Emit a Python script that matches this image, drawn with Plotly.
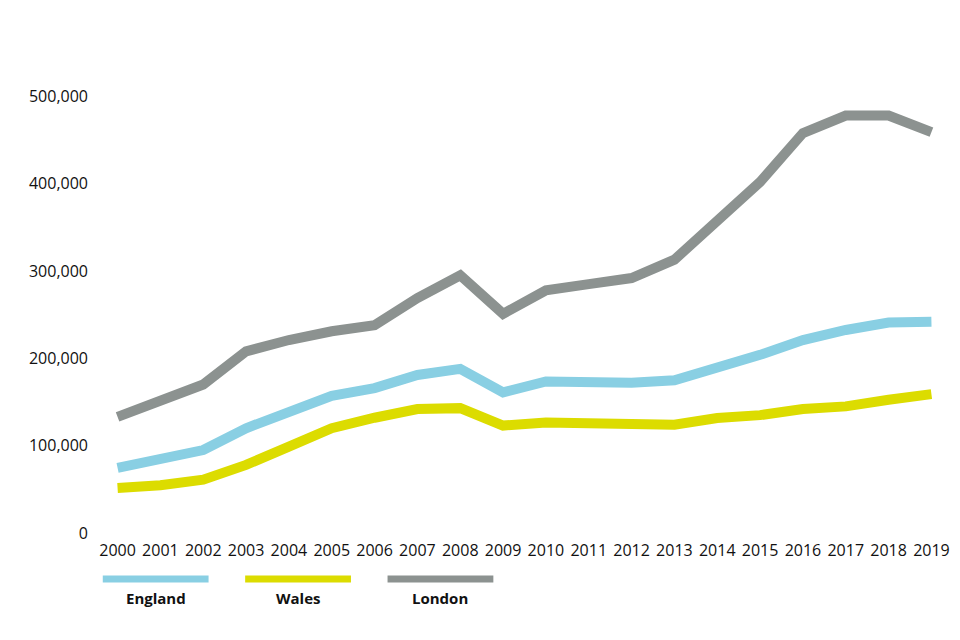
import plotly.graph_objects as go

years = list(range(2000, 2020))
england = [74500, 84000, 95000, 120000, 139000, 157000, 166000, 181000, 188000, 161000,
           173500, 172000, 172000, 175000, 189000, 204000, 221000, 232500, 241000, 242000]
wales = [51600, 54700, 61000, 78000, 99000, 120000, 132000, 142000, 143000, 123000,
         126600, 126600, 125000, 124000, 131600, 135000, 142000, 145000, 152600, 159000]
london = [133000, 151000, 170000, 208000, 221000, 231000, 238000, 269000, 295000, 251000,
          278000, 285000, 292000, 313000, 356000, 402000, 458000, 478000, 478000, 459000]

series_names = ["England", "Wales", "London"]
series_values = [england, wales, london]
series_colors = ["#89CFE3", "#DCDC00", "#8C9290"]
y_ticks = [0, 100000, 200000, 300000, 400000, 500000]
y_tick_labels = ["0", "100,000", "200,000", "300,000", "400,000", "500,000"]

# page body has an 8px margin, so the figure is drawn at (8, 8)
OFF = 8
W, H = 960 - OFF, 640 - OFF
L = 109.3 - OFF
R = W - (949.7 - OFF)
T = 43.5 - OFF
B = H - (533.5 - OFF)
pw, ph = W - L - R, H - T - B

fig = go.Figure()
for name, vals, col in zip(series_names, series_values, series_colors):
    fig.add_trace(go.Scatter(x=years, y=vals, mode="lines", name=name,
                             line=dict(color=col, width=10), showlegend=False))

def px_to_paper_x(px):
    return (px - OFF - L) / pw

def px_to_paper_y(py):
    return (H - B - (py - OFF)) / ph

shapes = []
annotations = []
legend_centers = [156.5, 300.5, 444.5]
for name, col, cx in zip(series_names, series_colors, legend_centers):
    shapes.append(dict(type="line", xref="paper", yref="paper",
                       x0=px_to_paper_x(cx - 53.5), x1=px_to_paper_x(cx + 53.5),
                       y0=px_to_paper_y(579.5), y1=px_to_paper_y(579.5),
                       line=dict(color=col, width=7)))
    annotations.append(dict(text=name, xref="paper", yref="paper",
                            x=px_to_paper_x(cx), y=px_to_paper_y(599),
                            xanchor="center", yanchor="middle", showarrow=False,
                            font=dict(family="Open Sans", size=15, color="#111111",
                                      weight="bold")))

fig.update_layout(
    width=W, height=H,
    margin=dict(l=L, r=R, t=T, b=B, pad=0),
    paper_bgcolor="white", plot_bgcolor="white",
    font=dict(family="Open Sans", size=16, color="#111111"),
    shapes=shapes, annotations=annotations,
    xaxis=dict(range=[1999.8, 2019.2], tickmode="array", tickvals=years,
               ticktext=[str(y) for y in years], showgrid=False, zeroline=False,
               showline=False, ticks="", ticklabelstandoff=6),
    yaxis=dict(range=[0, 560000], tickmode="array", tickvals=y_ticks,
               ticktext=y_tick_labels, showgrid=False, zeroline=False,
               showline=False, ticks="", ticklabelstandoff=20),
)

fig.write_html("out.html")
